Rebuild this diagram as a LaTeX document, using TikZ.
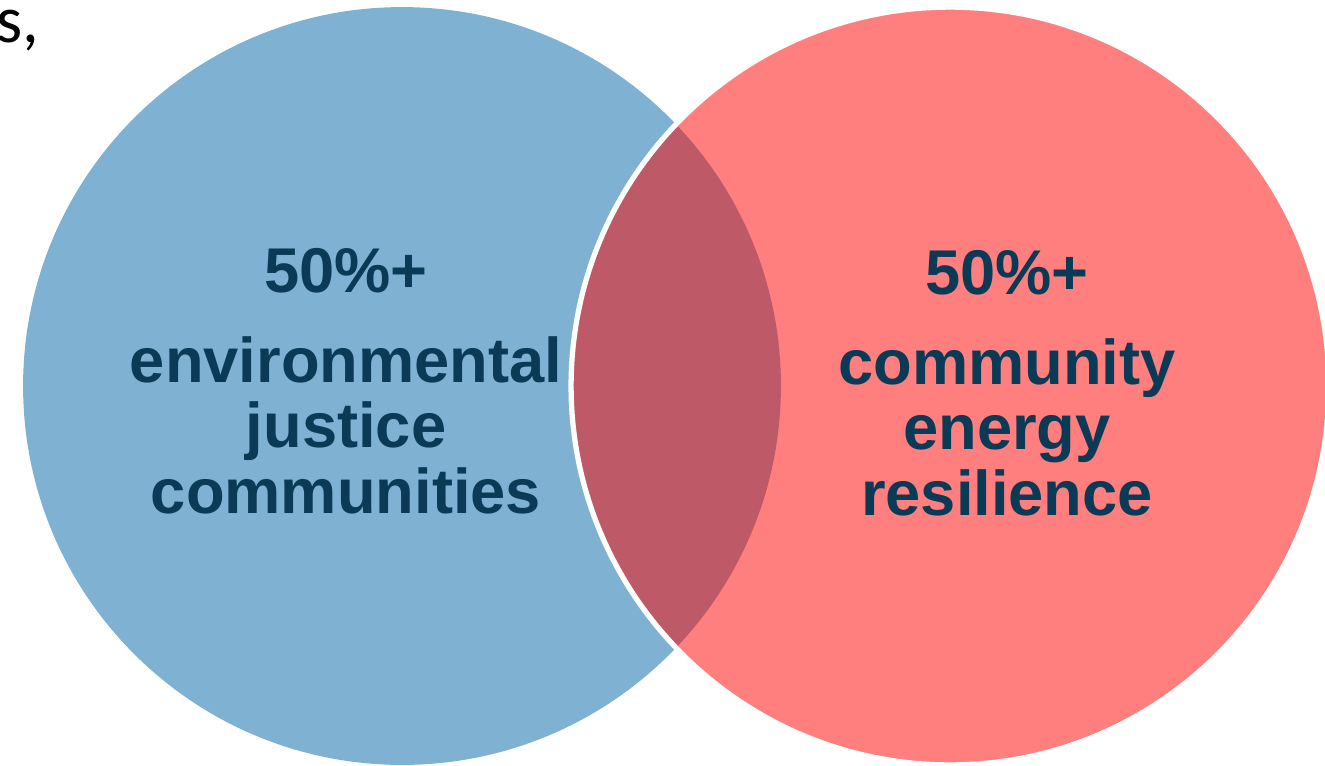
\documentclass[tikz,border=0pt]{standalone}
\usepackage{fontspec}
\setmainfont{Liberation Sans}
\newfontfamily\slidefont{Carlito}
\begin{document}
\begin{tikzpicture}[x=0.02cm, y=-0.02cm,
    ring/.style={circle, fill=#1, inner sep=0pt, minimum size=15.16cm},
    lbl/.style={text=vennnavy, align=center, inner sep=0pt,
      font=\fontsize{36}{37.2}\selectfont\bfseries}]
  \definecolor{vennblue}{HTML}{7FB2D2}
  \definecolor{vennred}{HTML}{FF7F7F}
  \definecolor{vennmix}{HTML}{BE5A68}
  \definecolor{vennnavy}{HTML}{0A3A55}
  \useasboundingbox (0,0) rectangle (1325,765);
  % ---- leftover text of the slide ------------------------------------------
  \node[anchor=base west, inner sep=0pt, font=\slidefont\fontsize{38}{40}\selectfont] (cut) at (-4,42) {s,};
  % ---- the two sets --------------------------------------------------------
  \node[ring=vennblue] (ej) at (402,386) {};
  \node[ring=vennred] (cer) at (950,386) {};
  % overlap of both sets
  \begin{scope}
    \clip (ej.center) circle[radius=7.58cm];
    \fill[vennmix] (cer.center) circle[radius=7.58cm];
  \end{scope}
  \draw[white, line width=3pt] (cer.center) circle[radius=7.58cm];
  % ---- labels --------------------------------------------------------------
  \node[lbl] (ejtxt) at (346,381) {50\%+\\[14pt]environmental\\justice\\communities};
  \node[lbl] (certxt) at (1007,383) {50\%+\\[14pt]community\\energy\\resilience};
\end{tikzpicture}
\end{document}
